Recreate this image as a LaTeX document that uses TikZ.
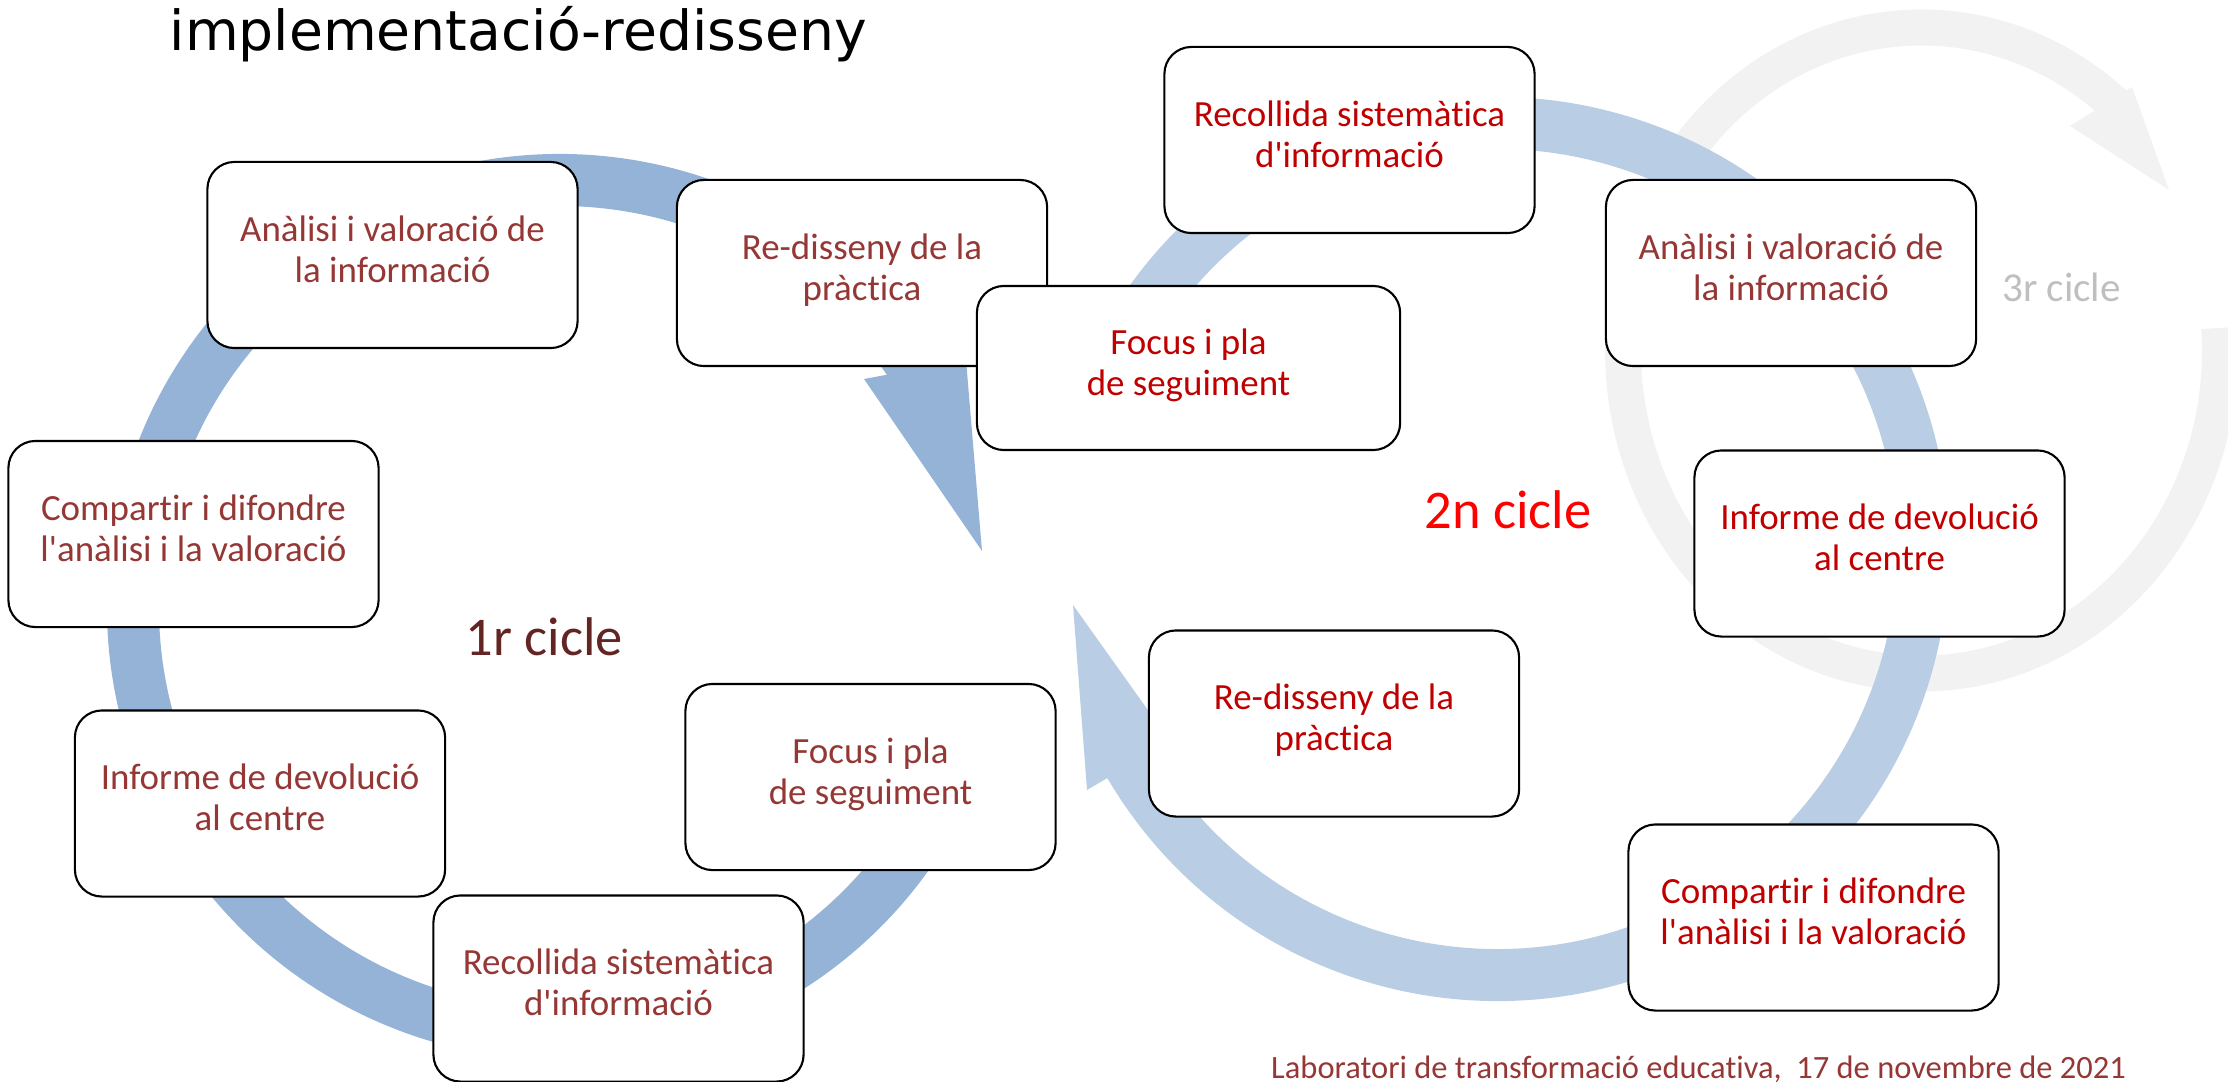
\documentclass[tikz,border=0pt]{standalone}
\usepackage{fontspec}
\setmainfont{Carlito}[Ligatures=NoCommon]
\newfontfamily\titlefont{DejaVu Sans}
\usepackage{tikz}
\usetikzlibrary{calc}
\definecolor{ringone}{HTML}{95B3D7}
\definecolor{ringtwo}{HTML}{B9CDE5}
\definecolor{ringthree}{HTML}{F2F2F2}
\definecolor{textone}{HTML}{953735}
\definecolor{texttwo}{HTML}{C00000}
\definecolor{cycleone}{HTML}{632523}
\definecolor{cycletwo}{HTML}{FF0000}
\definecolor{cyclethree}{HTML}{BFBFBF}
\newcommand{\apos}{\textquotesingle}
\tikzset{
every node/.style={inner sep=1pt},
stage/.style={draw, line width=0.6pt, fill=white, rounded corners=0.27cm,
  minimum width=3.70cm, minimum height=1.86cm, align=center,
  font=\fontsize{10.5}{11.66}\selectfont,
  execute at begin node=\strut, execute at end node=\strut}, % boxes of the cycles
first/.style={stage, text=textone}, % 1st cycle
second/.style={stage, text=texttwo}, % 2nd cycle
cyclelabel/.style={anchor=base, font=\fontsize{15.5}{18.6}\selectfont},
}

\begin{document}
\begin{tikzpicture}[x=0.01cm, y=0.01cm]
  \clip (0,0) rectangle (2228,1081);

  % rings
  \coordinate (c3) at (1921.5,730.5);
  \draw[ringthree, line width=3.6mm] ([shift={(49:298.5 and 323)}]c3)
    arc[start angle=49, end angle=364, x radius=298.5, y radius=323];
  \fill[ringthree] (2132,994) -- (2169,891) -- (2070,955) -- cycle;

  \coordinate (c2) at (1497,532);
  \draw[ringtwo, line width=5.2mm] ([shift={(209:426)}]c2)
    arc[start angle=209, end angle=518, radius=426];
  \fill[ringtwo] (1087,291) -- (1170,340) -- (1073,476) -- cycle;

  \coordinate (c1) at (560,474);
  \draw[ringone, line width=5.2mm] ([shift={(32:427)}]c1)
    arc[start angle=32, end angle=340, radius=427];
  \fill[ringone] (864,702) -- (966,721) -- (982,530) -- cycle;

  % 1r cicle
  \node[first] (ana1) at (392.5,826) {Anàlisi i valoració de\\la informació};
  \node[first] (red1) at (862,808) {Re-disseny de la\\pràctica};
  \node[first] (foc1) at (870.5,304) {Focus i pla\\de seguiment};
  \node[first] (rec1) at (618.5,92.5) {Recollida sistemàtica\\d\apos informació};
  \node[first] (inf1) at (260,277.5) {Informe de devolució\\al centre};
  \node[first] (com1) at (193.5,547) {Compartir i difondre\\l\apos anàlisi i la valoració};

  % 2n cicle
  \node[second] (rec2) at (1349.5,941) {Recollida sistemàtica\\d\apos informació};
  \node[first] (ana2) at (1791,808) {Anàlisi i valoració de\\la informació};
  \node[second, minimum width=4.23cm, minimum height=1.64cm] (foc2) at (1188.5,713) {Focus i pla\\de seguiment};
  \node[second] (inf2) at (1879.5,537.5) {Informe de devolució\\al centre};
  \node[second] (red2) at (1334,357.5) {Re-disseny de la\\pràctica};
  \node[second] (com2) at (1813.5,163.5) {Compartir i difondre\\l\apos anàlisi i la valoració};

  \node[cyclelabel, text=cycleone] (cyc1) at (544.5,425.4) {1r cicle};
  \node[cyclelabel, text=cycletwo] (cyc2) at (1508,552.4) {2n cicle};
  \node[cyclelabel, text=cyclethree, font=\fontsize{11.7}{14}\selectfont] (cyc3) at (2061.5,779) {3r cicle};

  \node[anchor=base west, font=\titlefont\fontsize{15.7}{18.8}\selectfont] (title) at (165.5,1030) {implementació-redisseny};
  \node[anchor=base west, text=textone, font=\fontsize{9.24}{11}\selectfont] (foot) at (1267,3) {Laboratori de transformació educativa,\ \ 17 de novembre de 2021};
\end{tikzpicture}
\end{document}
